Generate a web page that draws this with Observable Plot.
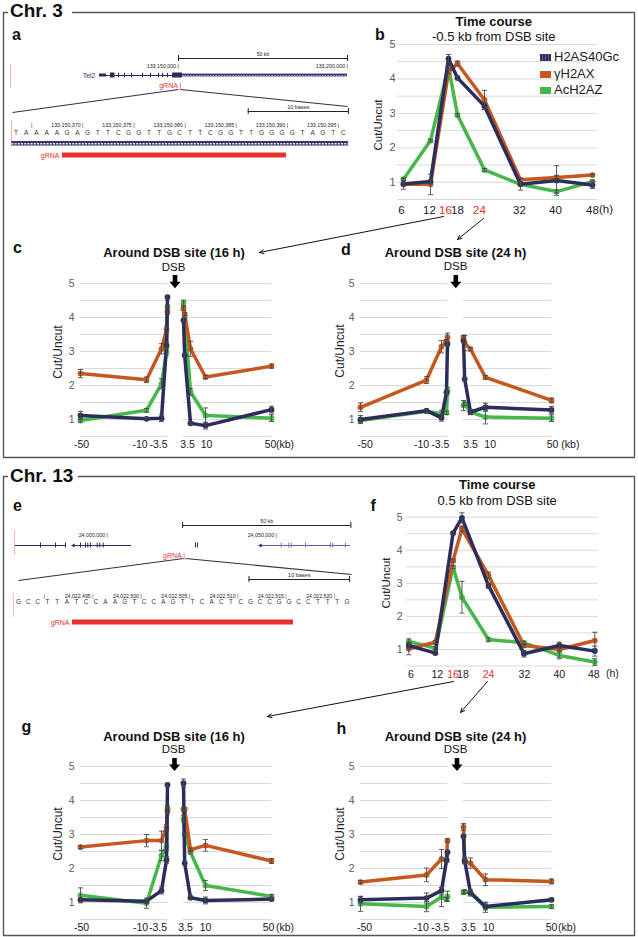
<!DOCTYPE html>
<html>
<head>
<meta charset="utf-8">
<script src="https://cdn.jsdelivr.net/npm/d3@7"></script>
<script src="https://cdn.jsdelivr.net/npm/@observablehq/plot@0.6"></script>
<style>
html,body{margin:0;padding:0;background:#fff;}
#page{position:relative;width:638px;height:937px;overflow:hidden;background:#fff;font-family:Arial,"Liberation Sans",Helvetica,sans-serif;}
.t{position:absolute;white-space:nowrap;line-height:1;}
.box{position:absolute;}
</style>
</head>
<body>
<div id="page"></div>
<script>
// ================= DATA =================
const seriesNames = ["H2AS40Gc", "γH2AX", "AcH2AZ"];
const hours = [6, 12, 16, 18, 24, 32, 40, 48];
const highlightHours = [16, 24];
const dsbKb = [-50, -10, -3.5, -1, -0.5, 0.5, 1, 3.5, 10, 50];
const dsbTickKb = [-50, -10, -3.5, 3.5, 10, 50];
const gridLevels = [0.5, 1, 1.5, 2, 2.5, 3, 3.5, 4, 4.5, 5];
const yTickValues = [1, 2, 3, 4, 5];

// b: Chr. 3 time course, -0.5 kb from DSB site
const b_H2AS40Gc = [0.95, 1.02, 4.59, 4.03, 3.21, 0.94, 1.05, 0.92];
const b_gH2AX    = [0.94, 0.94, 4.20, 4.45, 3.39, 1.07, 1.14, 1.21];
const b_AcH2AZ   = [1.09, 2.21, 4.35, 2.95, 1.36, 0.94, 0.73, 1.02];
const b_H2AS40Gc_err = [0.15, 0.05, 0.12, 0.05, 0.10, 0.17, 0.43, 0.10];
const b_gH2AX_err    = [0.04, 0.30, 0.05, 0.07, 0.28, 0.05, 0.05, 0.03];
const b_AcH2AZ_err   = [0.04, 0.04, 0.04, 0.04, 0.04, 0.04, 0.04, 0.05];

// c: Chr. 3 around DSB site (16 h)
const c_H2AS40Gc = [1.12, 1.02, 1.04, 3.18, 4.60, 3.92, 2.89, 0.89, 0.82, 1.29];
const c_gH2AX    = [2.35, 2.17, 3.08, 3.64, 4.16, 4.26, 4.10, 3.08, 2.25, 2.57];
const c_AcH2AZ   = [0.97, 1.27, 2.05, 2.99, 4.31, 4.43, 4.02, 1.81, 1.12, 1.04];
const c_H2AS40Gc_err = [0.12, 0.04, 0.10, 0.10, 0.05, 0.05, 0.05, 0.04, 0.10, 0.10];
const c_gH2AX_err    = [0.12, 0.08, 0.15, 0.10, 0.05, 0.05, 0.05, 0.22, 0.05, 0.06];
const c_AcH2AZ_err   = [0.05, 0.05, 0.15, 0.10, 0.05, 0.08, 0.05, 0.10, 0.22, 0.10];

// d: Chr. 3 around DSB site (24 h)
const d_H2AS40Gc = [1.00, 1.26, 1.05, 1.80, 3.22, 3.32, 2.19, 1.22, 1.36, 1.28];
const d_gH2AX    = [1.36, 2.16, 3.14, 3.30, 3.42, 3.42, 3.25, 3.07, 2.24, 1.56];
const d_AcH2AZ   = [0.97, 1.24, 1.17, 1.20, 1.85, 1.41, 1.46, 1.22, 1.07, 1.04];
const d_H2AS40Gc_err = [0.12, 0.04, 0.10, 0.05, 0.05, 0.05, 0.05, 0.05, 0.12, 0.10];
const d_gH2AX_err    = [0.13, 0.10, 0.18, 0.05, 0.12, 0.05, 0.22, 0.05, 0.05, 0.07];
const d_AcH2AZ_err   = [0.05, 0.05, 0.10, 0.05, 0.10, 0.15, 0.05, 0.08, 0.20, 0.10];

// f: Chr. 13 time course, 0.5 kb from DSB site
const f_H2AS40Gc = [1.12, 0.89, 4.52, 4.98, 2.93, 0.87, 1.12, 0.95];
const f_gH2AX    = [1.02, 1.22, 3.69, 4.65, 3.24, 1.12, 1.00, 1.27];
const f_AcH2AZ   = [1.24, 1.04, 3.49, 2.58, 1.30, 1.20, 0.82, 0.62];
const f_H2AS40Gc_err = [0.10, 0.05, 0.05, 0.15, 0.08, 0.10, 0.10, 0.15];
const f_gH2AX_err    = [0.18, 0.05, 0.05, 0.08, 0.10, 0.05, 0.05, 0.25];
const f_AcH2AZ_err   = [0.08, 0.05, 0.05, 0.48, 0.05, 0.05, 0.10, 0.10];

// g: Chr. 13 around DSB site (16 h)
const g_H2AS40Gc = [1.08, 1.04, 1.35, 2.25, 4.46, 4.51, 2.16, 1.14, 1.06, 1.10];
const g_gH2AX    = [2.63, 2.82, 2.82, 3.20, 3.70, 3.74, 3.74, 2.55, 2.68, 2.22];
const g_AcH2AZ   = [1.21, 0.98, 2.38, 2.63, 3.75, 3.46, 3.00, 2.48, 1.50, 1.18];
const g_H2AS40Gc_err = [0.05, 0.05, 0.10, 0.10, 0.05, 0.12, 0.05, 0.05, 0.10, 0.05];
const g_gH2AX_err    = [0.05, 0.18, 0.28, 0.10, 0.10, 0.05, 0.05, 0.05, 0.17, 0.07];
const g_AcH2AZ_err   = [0.22, 0.15, 0.15, 0.10, 0.10, 0.10, 0.05, 0.05, 0.15, 0.05];

// h: Chr. 13 around DSB site (24 h)
const h_H2AS40Gc = [1.08, 1.13, 1.35, 2.24, 2.48, 2.95, 2.24, 1.29, 0.88, 1.08];
const h_gH2AX    = [1.60, 1.81, 2.28, 2.25, 2.82, 3.22, 2.20, 2.16, 1.67, 1.62];
const h_AcH2AZ   = [0.96, 0.88, 1.16, 1.10, 1.18, 1.30, 1.32, 1.27, 0.86, 0.88];
const h_H2AS40Gc_err = [0.10, 0.15, 0.10, 0.05, 0.05, 0.05, 0.10, 0.10, 0.10, 0.05];
const h_gH2AX_err    = [0.05, 0.20, 0.28, 0.05, 0.05, 0.10, 0.05, 0.15, 0.17, 0.07];
const h_AcH2AZ_err   = [0.22, 0.15, 0.28, 0.05, 0.15, 0.05, 0.05, 0.05, 0.15, 0.05];

// a: Chr. 3 genome browser (Tel2 locus)
const a_coordTicks = [133150000, 133200000];
const a_scale50kb = [133150000, 133200000];
const a_viewMark = 133100300;
const a_geneSpan = [133126630, 133151180];
const a_geneTail = [133151180, 133200000];
const a_exonsUTR = [[133126627, 133128698]];
const a_exons = [[133129882, 133131213], [133148225, 133151183]];
const a_exonTicks = [133132249, 133134024, 133136095, 133139349, 133141716, 133144083, 133145266, 133146746];
const a_gRNASite = 133150380;
const a_scale10b = [133150386.2, 133150396];
const a_posTicks = [133150365, 133150370, 133150375, 133150380, 133150385, 133150390, 133150395];
const a_seq = "TAAAAGAGTTCGGTTGCTTCGGTTGGGGTAGTC";
const a_seqFirst = 133150364;
const a_track = [133150363.1, 133150396];
const a_gRNA = [133150368.04, 133150389.94];
const a_seqViewMark = 133150363.06;

// e: Chr. 13 genome browser
const e_coordTicks = [24000000, 24050000];
const e_scale50kb = [24022200, 24072000];
const e_viewMark = 23972500;
const e_genes = [[23972781, 23987574], [23989941, 24007101], [24045266, 24071893]];
const e_exonTicks = [23980178, 23984615, 23987574, 23992012, 23993491, 23994172, 23994970, 23996953, 23997722, 23998728];
const e_exonTicks3 = [24051391, 24053639, 24054349, 24058580, 24065976, 24066657, 24070414];
const e_smallTicks = [24026036, 24026627];
const e_gRNASite = 24022500;
const e_scale10b = [24022511.2, 24022521.6];
const e_posTicks = [24022490, 24022495, 24022500, 24022505, 24022510, 24022515, 24022520];
const e_seq = "GCCTTATCCAAGTCCAGTTCACTCGCCGGCCTTTG";
const e_seqFirst = 24022488;
const e_gRNA = [24022492.93, 24022515.8];
const e_seqViewMark = 24022486.8;

// ================= STYLE / HELPERS =================
const FONT = 'Arial, "Liberation Sans", Helvetica, sans-serif';
const NAVY = "#2b2d5c", ORANGE = "#c4581f", GREEN = "#47b74b", RED = "#e8312a", GRID = "#d9d9d9", EBAR = "#4a4a4a";
const COLORS = [NAVY, ORANGE, GREEN];
const page = document.getElementById("page");
const fmt = d3.format(",");

const capSymbol = {draw(ctx) { ctx.moveTo(-2.6, 0); ctx.lineTo(2.6, 0); }};
const blockArrow = {draw(ctx) {
  ctx.moveTo(-2.3, -6.6); ctx.lineTo(2.3, -6.6); ctx.lineTo(2.3, 0); ctx.lineTo(5.6, 0);
  ctx.lineTo(0, 6.6); ctx.lineTo(-5.6, 0); ctx.lineTo(-2.3, 0); ctx.closePath();
}};
const leftHead = {draw(ctx) { ctx.moveTo(-2.4, 0); ctx.lineTo(1.2, -1.9); ctx.lineTo(1.2, 1.9); ctx.closePath(); }};

function place(svg, left, top, w, h) {
  const d = document.createElement("div");
  d.className = "box";
  d.style.left = left + "px"; d.style.top = top + "px";
  d.style.width = w + "px"; d.style.height = h + "px";
  d.appendChild(svg);
  page.appendChild(d);
}
function txt(s, x, base, size, o = {}) {
  const d = document.createElement("div");
  d.className = "t"; d.textContent = s;
  d.style.fontSize = size + "px";
  d.style.fontWeight = o.w || "normal";
  d.style.color = o.c || "#111";
  d.style.left = x + "px";
  d.style.top = (base - 0.847 * size) + "px";
  if (o.a === "middle") d.style.transform = "translateX(-50%)";
  else if (o.a === "end") d.style.transform = "translateX(-100%)";
  page.appendChild(d);
}
function vtxt(s, cx, cy, size) {
  const d = document.createElement("div");
  d.className = "t"; d.textContent = s;
  d.style.fontSize = size + "px"; d.style.color = "#222";
  d.style.left = cx + "px"; d.style.top = cy + "px";
  d.style.transform = "translate(-50%,-50%) rotate(-90deg)";
  page.appendChild(d);
}
const plotStyle = (fs) => `background:transparent;overflow:visible;font-family:${FONT};font-size:${fs}px;color:#5a5a5a;`;

// ================= LINE CHARTS =================
const tmplBreaks = [-50, -10, -3.5, -0.5, 0.5, 3.5, 10, 50];
const tmplOffsets = [0, 66, 81, 87, 103, 110, 125, 191];
const dsbRange = (base, left) => tmplOffsets.map(o => base + o - left);

function chart(cfg) {
  const rows = [];
  cfg.vals.forEach((vals, s) => vals.forEach((v, i) =>
    rows.push({x: cfg.xs[i], v, e: cfg.errs[s][i], s, side: cfg.xs[i] < 0 ? "L" : "R"})));
  const marks = [];
  if (cfg.split) {
    marks.push(Plot.ruleY(gridLevels, {y: d => d, x1: () => -50, x2: () => -0.5, stroke: GRID, strokeWidth: 1}));
    marks.push(Plot.ruleY(gridLevels, {y: d => d, x1: () => 0.5, x2: () => 50, stroke: GRID, strokeWidth: 1}));
  } else {
    marks.push(Plot.ruleY(gridLevels, {stroke: GRID, strokeWidth: 1}));
  }
  for (const s of [2, 1, 0]) {
    const d = rows.filter(r => r.s === s);
    marks.push(Plot.line(d, {x: "x", y: "v", z: "side", stroke: COLORS[s], strokeWidth: 3.5, strokeLinejoin: "round", strokeLinecap: "round"}));
    marks.push(Plot.dot(d, {x: "x", y: "v", r: 2.9, fill: COLORS[s]}));
  }
  const eb = rows.filter(r => r.e > 0);
  marks.push(Plot.ruleX(eb, {x: "x", y1: r => r.v - r.e, y2: r => r.v + r.e, stroke: EBAR, strokeWidth: 0.9}));
  marks.push(Plot.dot(eb, {x: "x", y: r => r.v + r.e, symbol: capSymbol, fill: "none", stroke: EBAR, strokeWidth: 0.9}));
  marks.push(Plot.dot(eb, {x: "x", y: r => r.v - r.e, symbol: capSymbol, fill: "none", stroke: EBAR, strokeWidth: 0.9}));
  cfg.ticks.forEach((t, i) => {
    marks.push(Plot.text([t], {
      x: d => d, frameAnchor: "bottom", dx: cfg.nudge[i], dy: cfg.labDy,
      text: d => String(d), fill: (cfg.red || []).includes(t) ? RED : "#1a1a1a", fontSize: cfg.xfs
    }));
  });
  const svg = Plot.plot({
    width: cfg.w, height: cfg.h,
    marginLeft: cfg.ml, marginRight: cfg.mr, marginTop: cfg.mt, marginBottom: cfg.mb,
    style: plotStyle(cfg.yfs),
    x: {type: "linear", domain: cfg.xdomain, range: cfg.xrange, axis: null},
    y: {domain: [0.5, 5], ticks: yTickValues, tickSize: 0, tickPadding: cfg.tp, label: null, tickFormat: d => String(d)},
    marks
  });
  place(svg, cfg.left, cfg.top, cfg.w, cfg.h);
}

// b
chart({left: 330, top: 0, w: 300, h: 230, ml: 67, mr: 33, mt: 44, mb: 31,
  xdomain: [6, 48], xrange: [73, 262], xs: hours, ticks: hours, red: highlightHours,
  nudge: [-2, -1, -3, 0, -5, -1, -1, 0], labDy: 14.5, xfs: 11.5, yfs: 11, tp: 2,
  vals: [b_H2AS40Gc, b_gH2AX, b_AcH2AZ], errs: [b_H2AS40Gc_err, b_gH2AX_err, b_AcH2AZ_err]});
// f
chart({left: 330, top: 470, w: 300, h: 220, ml: 76, mr: 32, mt: 46.7, mb: 24.5,
  xdomain: [6, 48], xrange: [78.3, 264.3], xs: hours, ticks: hours, red: highlightHours,
  nudge: [2, 2, 0, 1, 0, 0.5, 0, -1], labDy: 12, xfs: 10.5, yfs: 10.5, tp: 4,
  vals: [f_H2AS40Gc, f_gH2AX, f_AcH2AZ], errs: [f_H2AS40Gc_err, f_gH2AX_err, f_AcH2AZ_err]});
// c
chart({left: 0, top: 240, w: 318, h: 216, ml: 80, mr: 46, mt: 43, mb: 20, split: true,
  xdomain: tmplBreaks, xrange: dsbRange(80, 0), xs: dsbKb, ticks: dsbTickKb,
  nudge: [1, -6.5, -3, -3, 1, -1], labDy: 11.3, xfs: 10.5, yfs: 10.5, tp: 6,
  vals: [c_H2AS40Gc, c_gH2AX, c_AcH2AZ], errs: [c_H2AS40Gc_err, c_gH2AX_err, c_AcH2AZ_err]});
// d
chart({left: 318, top: 240, w: 300, h: 216, ml: 42, mr: 67, mt: 43, mb: 20, split: true,
  xdomain: tmplBreaks, xrange: dsbRange(360, 318), xs: dsbKb, ticks: dsbTickKb,
  nudge: [4.7, -5, -1.3, 0, 4.7, 1], labDy: 11.3, xfs: 10.5, yfs: 10.5, tp: 6,
  vals: [d_H2AS40Gc, d_gH2AX, d_AcH2AZ], errs: [d_H2AS40Gc_err, d_gH2AX_err, d_AcH2AZ_err]});
// g
chart({left: 0, top: 720, w: 318, h: 215, ml: 80, mr: 46, mt: 46, mb: 16, split: true,
  xdomain: tmplBreaks, xrange: dsbRange(80, 0), xs: dsbKb, ticks: dsbTickKb,
  nudge: [1, -6, -3.5, -5, 0, -3], labDy: 11.8, xfs: 10.5, yfs: 10.5, tp: 6,
  vals: [g_H2AS40Gc, g_gH2AX, g_AcH2AZ], errs: [g_H2AS40Gc_err, g_gH2AX_err, g_AcH2AZ_err]});
// h
chart({left: 318, top: 720, w: 300, h: 215, ml: 42, mr: 67, mt: 46, mb: 16, split: true,
  xdomain: tmplBreaks, xrange: dsbRange(360, 318), xs: dsbKb, ticks: dsbTickKb,
  nudge: [4, -5.3, -1.3, -2, 3, 0], labDy: 11.8, xfs: 10.5, yfs: 10.5, tp: 6,
  vals: [h_H2AS40Gc, h_gH2AX, h_AcH2AZ], errs: [h_H2AS40Gc_err, h_gH2AX_err, h_AcH2AZ_err]});

// ================= GENOME BROWSER PANELS =================
const gStyle = `background:transparent;overflow:visible;font-family:${FONT};font-size:6px;`;
const TXT = "#222", TRACK = "#34346e";
const idY = {type: "identity", axis: null};
const yc = v => () => v;

// a: gene-level
place(Plot.plot({
  width: 360, height: 100, margin: 0, style: gStyle,
  x: {type: "linear", domain: [133100000, 133200000], range: [9, 347], axis: null}, y: idY,
  marks: [
    Plot.ruleY([a_scale50kb], {x1: d => d[0], x2: d => d[1], y: yc(58), stroke: TXT, strokeWidth: 1}),
    Plot.ruleX(a_scale50kb, {x: d => d, y1: yc(55), y2: yc(61), stroke: TXT, strokeWidth: 1}),
    Plot.text([a_scale50kb], {x: d => (d[0] + d[1]) / 2, y: yc(54), text: () => "50 kb", fontSize: 5.2, fill: TXT}),
    Plot.text(a_coordTicks, {x: d => d, y: yc(66), text: d => fmt(d) + " |", textAnchor: "end", dx: 0.5, fontSize: 5.3, fill: TXT}),
    Plot.ruleX([a_viewMark], {x: d => d, y1: yc(64), y2: yc(88), stroke: "#f3b0b0", strokeWidth: 1}),
    Plot.ruleY([a_geneSpan], {x1: d => d[0], x2: d => d[1], y: yc(75), stroke: NAVY, strokeWidth: 1}),
    Plot.rect([a_geneTail], {x1: d => d[0], x2: d => d[1], y1: yc(73.6), y2: yc(76.4), fill: TRACK}),
    Plot.ruleY([a_geneTail], {x1: d => d[0], x2: d => d[1], y: yc(75), stroke: "#b4b4d8", strokeWidth: 1, strokeDasharray: "1.4,1.4"}),
    Plot.rect(a_exonsUTR, {x1: d => d[0], x2: d => d[1], y1: yc(73.5), y2: yc(76.5), fill: NAVY}),
    Plot.rect(a_exons, {x1: d => d[0], x2: d => d[1], y1: yc(72.5), y2: yc(77.5), fill: NAVY}),
    Plot.ruleX(a_exonTicks, {x: d => d, y1: yc(72.8), y2: yc(77.2), stroke: NAVY, strokeWidth: 1.2}),
    Plot.text([a_geneSpan[0]], {x: d => d, dx: -4, y: yc(75.5), text: () => "Tel2", textAnchor: "end", fontSize: 7, fill: "#3a3a66"}),
    Plot.text([a_gRNASite], {x: d => d, dx: 1.5, y: yc(85), text: () => "gRNA |", textAnchor: "end", fontSize: 7, fill: RED})
  ]
}), 0, 0, 360, 100);

// a: base-level
place(Plot.plot({
  width: 360, height: 170, margin: 0, style: gStyle,
  x: {type: "linear", domain: [133150362, 133150396], range: [0.16, 347.98], axis: null}, y: idY,
  marks: [
    Plot.ruleY([a_scale10b], {x1: d => d[0], x2: d => d[1], y: yc(111), stroke: TXT, strokeWidth: 1}),
    Plot.ruleX(a_scale10b, {x: d => d, y1: yc(108), y2: yc(114), stroke: TXT, strokeWidth: 1}),
    Plot.text([a_scale10b], {x: d => (d[0] + d[1]) / 2, y: yc(107), text: () => "10 bases", fontSize: 5.5, fill: TXT}),
    Plot.text(a_posTicks, {x: d => d, y: yc(125), text: (d, i) => i === 0 ? "|" : fmt(d) + " |", textAnchor: "end", dx: 1, fontSize: 5.3, fill: TXT}),
    Plot.ruleX([a_seqViewMark], {x: d => d, y1: yc(120), y2: yc(146), stroke: "#f3b0b0", strokeWidth: 1}),
    Plot.text(a_seq.split(""), {x: (d, i) => a_seqFirst + i - 0.5, y: yc(132.5), text: d => d, fontSize: 6.5, fill: "#333"}),
    Plot.rect([a_track], {x1: d => d[0], x2: d => d[1], y1: yc(141), y2: yc(145.5), fill: TRACK}),
    Plot.ruleY([a_track], {x1: d => d[0], x2: d => d[1], y: yc(143.25), stroke: "#e8e8f4", strokeWidth: 1.6, strokeDasharray: "2,1.2"}),
    Plot.rect([a_gRNA], {x1: d => d[0], x2: d => d[1], y1: yc(152.5), y2: yc(157.5), fill: RED}),
    Plot.text([a_gRNA[0]], {x: d => d, dx: -3, y: yc(155), text: () => "gRNA", textAnchor: "end", fontSize: 7, fill: RED})
  ]
}), 0, 0, 360, 170);

// e: gene-level
place(Plot.plot({
  width: 360, height: 640, margin: 0, style: gStyle,
  x: {type: "linear", domain: [23970000, 24075000], range: [5.6, 360.5], axis: null}, y: idY,
  marks: [
    Plot.ruleY([e_scale50kb], {x1: d => d[0], x2: d => d[1], y: yc(525), stroke: TXT, strokeWidth: 1}),
    Plot.ruleX(e_scale50kb, {x: d => d, y1: yc(522), y2: yc(528), stroke: TXT, strokeWidth: 1}),
    Plot.text([e_scale50kb], {x: d => (d[0] + d[1]) / 2, y: yc(520.5), text: () => "50 kb", fontSize: 5.2, fill: TXT}),
    Plot.text(e_coordTicks, {x: d => d, y: yc(535), text: d => fmt(d) + " |", textAnchor: "end", dx: 0.5, fontSize: 5.3, fill: TXT}),
    Plot.ruleX([e_viewMark], {x: d => d, y1: yc(530), y2: yc(555), stroke: "#f3b0b0", strokeWidth: 1}),
    Plot.ruleY(e_genes.slice(0, 2), {x1: d => d[0], x2: d => d[1], y: yc(545), stroke: NAVY, strokeWidth: 1}),
    Plot.ruleY(e_genes.slice(2), {x1: d => d[0], x2: d => d[1], y: yc(545), stroke: "#5a5aa8", strokeWidth: 1}),
    Plot.ruleX(e_exonTicks, {x: d => d, y1: yc(542.5), y2: yc(547.5), stroke: NAVY, strokeWidth: 1}),
    Plot.ruleX(e_exonTicks3, {x: d => d, y1: yc(542.5), y2: yc(547.5), stroke: "#7a7ab8", strokeWidth: 1}),
    Plot.ruleX(e_smallTicks, {x: d => d, y1: yc(542.5), y2: yc(547.5), stroke: NAVY, strokeWidth: 1}),
    Plot.dot([e_genes[1][0], e_genes[2][0]], {x: d => d, y: yc(545), symbol: leftHead, fill: NAVY}),
    Plot.text([e_gRNASite], {x: d => d, dx: 1.5, y: yc(555), text: () => "gRNA |", textAnchor: "end", fontSize: 7, fill: RED})
  ]
}), 0, 0, 360, 640);

// e: base-level
place(Plot.plot({
  width: 360, height: 640, margin: 0, style: gStyle,
  x: {type: "linear", domain: [24022485, 24022525], range: [-4.6, 381.8], axis: null}, y: idY,
  marks: [
    Plot.ruleY([e_scale10b], {x1: d => d[0], x2: d => d[1], y: yc(579), stroke: TXT, strokeWidth: 1}),
    Plot.ruleX(e_scale10b, {x: d => d, y1: yc(576), y2: yc(582), stroke: TXT, strokeWidth: 1}),
    Plot.text([e_scale10b], {x: d => (d[0] + d[1]) / 2, y: yc(575), text: () => "10 bases", fontSize: 5.5, fill: TXT}),
    Plot.text(e_posTicks, {x: d => d, y: yc(596), text: (d, i) => i === 0 ? "|" : fmt(d) + " |", textAnchor: "end", dx: 1, fontSize: 5.2, fill: TXT}),
    Plot.ruleX([e_seqViewMark], {x: d => d, y1: yc(593), y2: yc(617), stroke: "#f3b0b0", strokeWidth: 1}),
    Plot.text(e_seq.split(""), {x: (d, i) => e_seqFirst + i - 0.66, y: yc(601), text: d => d, fontSize: 6.3, fill: "#333"}),
    Plot.rect([e_gRNA], {x1: d => d[0], x2: d => d[1], y1: yc(619.5), y2: yc(624.5), fill: RED}),
    Plot.text([e_gRNA[0]], {x: d => d, dx: -3, y: yc(622), text: () => "gRNA", textAnchor: "end", fontSize: 7, fill: RED})
  ]
}), 0, 0, 360, 640);

// ================= OVERLAY: frames, connector arrows, DSB arrows =================
const framePts = [
  {id: 1, pts: [[7, 12], [3, 12], [3, 457], [634, 457], [634, 12], [72, 12]]},
  {id: 2, pts: [[7, 476], [3, 476], [3, 935], [634, 935], [634, 476], [78, 476]]}
].flatMap(f => f.pts.map(p => ({id: f.id, x: p[0], y: p[1]})));
const connectors = [
  {x1: 443, y1: 216, x2: 259, y2: 252}, {x1: 483, y1: 218, x2: 457, y2: 239},
  {x1: 453, y1: 681, x2: 267, y2: 716}, {x1: 487, y1: 681, x2: 460, y2: 712}
];
const zoomLines = [
  {x1: 178, y1: 89, x2: 12, y2: 112}, {x1: 180, y1: 89, x2: 347, y2: 106},
  {x1: 183, y1: 558, x2: 18, y2: 580}, {x1: 185, y1: 558, x2: 351, y2: 574}
];
const dsbArrows = [{x: 174.5, y: 281.2}, {x: 455.3, y: 281.2}, {x: 174, y: 764}, {x: 456.5, y: 764}];
place(Plot.plot({
  width: 638, height: 937, margin: 0, style: "background:transparent;overflow:visible;",
  x: {type: "identity", axis: null}, y: {type: "identity", axis: null},
  marks: [
    Plot.line(framePts, {x: "x", y: "y", z: "id", stroke: "#555", strokeWidth: 1.4}),
    Plot.link(zoomLines, {x1: "x1", y1: "y1", x2: "x2", y2: "y2", stroke: "#2e2e50", strokeWidth: 1.1}),
    Plot.arrow(connectors, {x1: "x1", y1: "y1", x2: "x2", y2: "y2", stroke: "#111", strokeWidth: 1, headLength: 7, headAngle: 50}),
    Plot.dot(dsbArrows, {x: "x", y: "y", symbol: blockArrow, fill: "#000", stroke: "none"})
  ]
}), 0, 0, 638, 937);

// ================= TEXT =================
txt("Chr. 3", 10, 17.5, 19, {w: "bold"});
txt("Chr. 13", 10, 481.7, 19, {w: "bold"});
txt("a", 12, 40.7, 16, {w: "bold"});
txt("b", 375, 40.7, 16, {w: "bold"});
txt("c", 13, 254, 16, {w: "bold"});
txt("d", 341, 256, 16, {w: "bold"});
txt("e", 13, 511.7, 16, {w: "bold"});
txt("f", 370.5, 511.7, 16, {w: "bold"});
txt("g", 21.5, 733, 16, {w: "bold"});
txt("h", 336.5, 734.3, 16, {w: "bold"});

txt("Time course", 493.8, 26, 13, {w: "bold", a: "middle"});
txt("-0.5 kb from DSB site", 493.8, 40.7, 13, {a: "middle"});
txt("Time course", 497.2, 489.3, 13, {w: "bold", a: "middle"});
txt("0.5 kb from DSB site", 497.2, 505, 13, {a: "middle"});
txt("Around DSB site (16 h)", 174, 257.3, 13, {w: "bold", a: "middle"});
txt("Around DSB site (24 h)", 455.5, 256.7, 13, {w: "bold", a: "middle"});
txt("Around DSB site (16 h)", 174, 740.7, 13, {w: "bold", a: "middle"});
txt("Around DSB site (24 h)", 455.5, 740.7, 13, {w: "bold", a: "middle"});
txt("DSB", 173.5, 271.7, 11.5, {a: "middle"});
txt("DSB", 455.5, 271.2, 11.5, {a: "middle"});
txt("DSB", 173.5, 754, 11.5, {a: "middle"});
txt("DSB", 455.5, 754, 11.5, {a: "middle"});

vtxt("Cut/Uncut", 379, 124.7, 11.5);
vtxt("Cut/Uncut", 57.7, 351.7, 12);
vtxt("Cut/Uncut", 339.7, 351, 12);
vtxt("Cut/Uncut", 386.7, 583, 11.5);
vtxt("Cut/Uncut", 58.3, 834, 12);
vtxt("Cut/Uncut", 340, 834, 12);

txt("(h)", 599, 213.5, 11.5, {c: "#1a1a1a"});
txt("(h)", 606, 677, 10.5, {c: "#1a1a1a"});
txt("(kb)", 276, 447.5, 10.5, {c: "#1a1a1a"});
txt("(kb)", 561.3, 447.5, 10.5, {c: "#1a1a1a"});
txt("(kb)", 276, 931, 10.5, {c: "#1a1a1a"});
txt("(kb)", 558, 931, 10.5, {c: "#1a1a1a"});

// legend (panel b)
const legendBaselines = [61.5, 78, 94.5];
seriesNames.forEach((name, i) => {
  const sw = document.createElement("div");
  sw.style.cssText = `position:absolute;left:539.5px;top:${legendBaselines[i] - 7.5}px;width:11px;height:7px;background:${COLORS[i]};`;
  if (i === 0) sw.style.background = `repeating-linear-gradient(90deg, ${NAVY} 0 2px, #5a5c96 2px 3px)`;
  page.appendChild(sw);
  txt(name, 554, legendBaselines[i], 13, {c: "#1a1a1a"});
});
</script>
</body>
</html>
